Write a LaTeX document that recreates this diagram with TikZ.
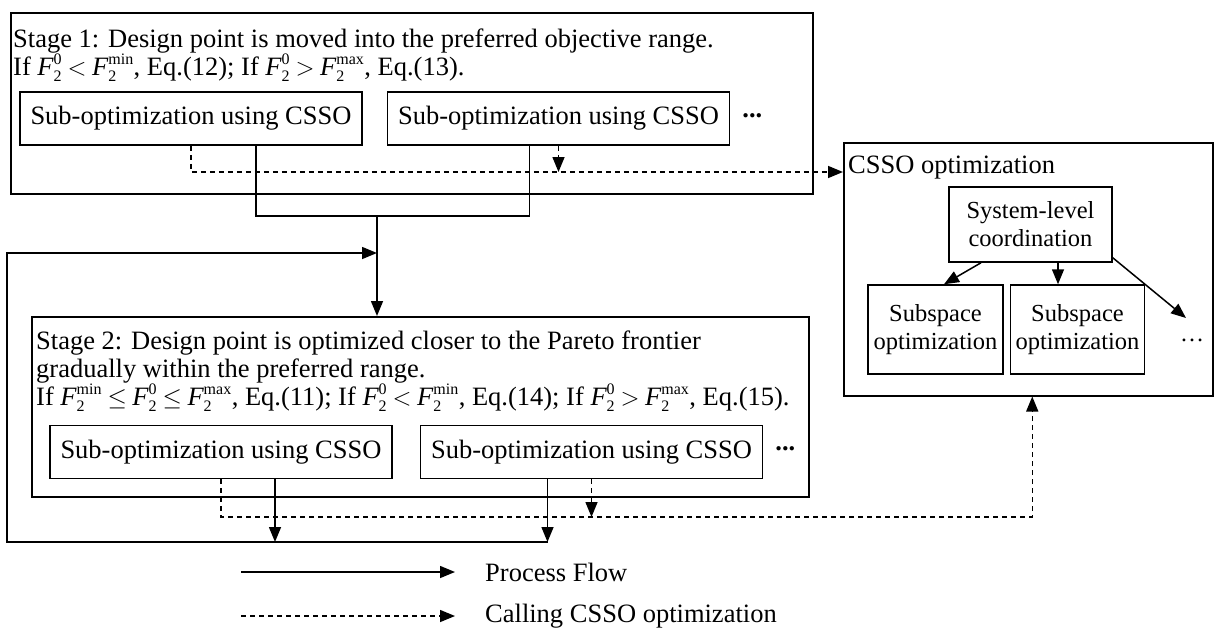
\documentclass[tikz,border=0pt]{standalone}
\usepackage{amsmath}
\usepackage{fontspec}
\setmainfont{Liberation Serif}
\usetikzlibrary{positioning,arrows.meta}

\DeclareMathSizes{26.5}{26.5}{16}{12}
\newcommand{\Fz}[1]{$\textit{F}_{\text{2}}^{\text{#1}}$}
\newcommand{\rl}[1]{$\mkern4mu#1\mkern4mu$}

\begin{document}
\begin{tikzpicture}[x=1pt, y=-1pt, font=\fontsize{26.5}{28}\selectfont,
		frame/.style={draw, line width=1.5pt, anchor=north west, inner sep=0pt},
		subopt/.style={draw, line width=1.5pt, minimum width=342pt, minimum height=53pt, inner sep=0pt},
		inner/.style={draw, line width=1.5pt, align=center, inner sep=0pt, font=\fontsize{24.5}{28}\selectfont},
		flow/.style={line width=1.5pt, -{Triangle[length=15pt, width=12pt]}},
		call/.style={flow, dash pattern=on 5pt off 4pt},
		txt/.style={inner sep=0pt, align=left, anchor=base west}]

		\useasboundingbox (0,0) rectangle (1215,637);

		\node[frame, minimum width=802pt, minimum height=181pt] (st1) at (10,12) {};
		\node[txt] (st1txt) at (13,75) {Stage 1: Design point is moved into the preferred objective range.\\
			If \Fz{0}\rl{<}\Fz{min}, Eq.(12); If \Fz{0}\rl{>}\Fz{max}, Eq.(13).};
		\node[subopt] (so1) at (191,118.5) {Sub-optimization using CSSO};
		\node[subopt, right=24pt of so1] (so2) {Sub-optimization using CSSO};
		\node[right=12pt of so2, inner sep=0pt, yshift=3pt] (more1) {\textbf{...}};

		\node[frame, minimum width=777pt, minimum height=180pt] (st2) at (31,316) {};
		\node[txt] (st2txt) at (36,405) {Stage 2: Design point is optimized closer to the Pareto frontier\\
			gradually within the preferred range.\\
			If \Fz{min}\rl{\le}\Fz{0}\rl{\le}\Fz{max}, Eq.(11); If \Fz{0}\rl{<}\Fz{min}, Eq.(14); If \Fz{0}\rl{>}\Fz{max}, Eq.(15).};
		\node[subopt] (so3) at (221,452) {Sub-optimization using CSSO};
		\node[subopt, right=27pt of so3] (so4) {Sub-optimization using CSSO};
		\node[right=12pt of so4, inner sep=0pt, yshift=3pt] (more2) {\textbf{...}};

		\node[frame, minimum width=369pt, minimum height=253pt] (csso) at (843,142) {};
		\node[txt] (cssotxt) at (848,173) {CSSO optimization};
		\node[inner, minimum width=163pt, minimum height=75pt] (sys) at (1030.5,224.5) {System-level\\coordination};
		\node[inner, minimum width=135pt, minimum height=89pt] (sp1) at (935.5,329.5) {Subspace\\optimization};
		\node[inner, minimum width=134pt, minimum height=89pt, right=6pt of sp1] (sp2) {Subspace\\optimization};
		\node[inner sep=0pt, font=\fontsize{24}{28}\selectfont] (more3) at (1192,340) {\dots};
		\coordinate (e3) at (1186,318);

		\coordinate (j) at (377,216);
		\coordinate (lp) at (7,253);
		\coordinate (bl) at (7,542);
		\coordinate (d1) at (191,172);
		\coordinate (d2) at (221,517);

		\draw[line width=1.5pt] ([xshift=65pt]so1.south) |- (j) -| ([xshift=-29pt]so2.south);
		\draw[flow] (j) -- (j |- st2.north);
		\draw[flow] ([xshift=54pt]so3.south) -- ([xshift=54pt]so3.south |- bl);
		\draw[flow] ([xshift=-44pt]so4.south) coordinate (fb) -- (fb |- bl);
		\draw[flow] (fb |- bl) -- (bl) -- (lp) -- (lp -| j);

		\draw[call] (so1.south) -- (d1) -- (d1 -| csso.west);
		\draw[call] (so2.south) -- (so2.south |- d1);
		\draw[call] (so3.south) -- (d2) -| ([xshift=4pt]csso.south);
		\draw[call] (so4.south) -- (so4.south |- d2);

		\draw[flow] ([xshift=-49.5pt]sys.south) -- ([xshift=8.5pt]sp1.north);
		\draw[flow] ([xshift=27.5pt]sys.south) -- ([xshift=27.5pt]sys.south |- sp2.north);
		\draw[flow] ([yshift=5pt]sys.south east) -- (e3);

		\node[txt, anchor=west] (pf) at (485,572) {Process Flow};
		\node[txt, anchor=west] (cc) at (485,616) {Calling CSSO optimization};
		\draw[flow] ([xshift=-244pt]pf.west) -- ([xshift=-30pt]pf.west);
		\draw[call] ([xshift=-244pt]cc.west) -- ([xshift=-30pt]cc.west);
	\end{tikzpicture}
\end{document}
